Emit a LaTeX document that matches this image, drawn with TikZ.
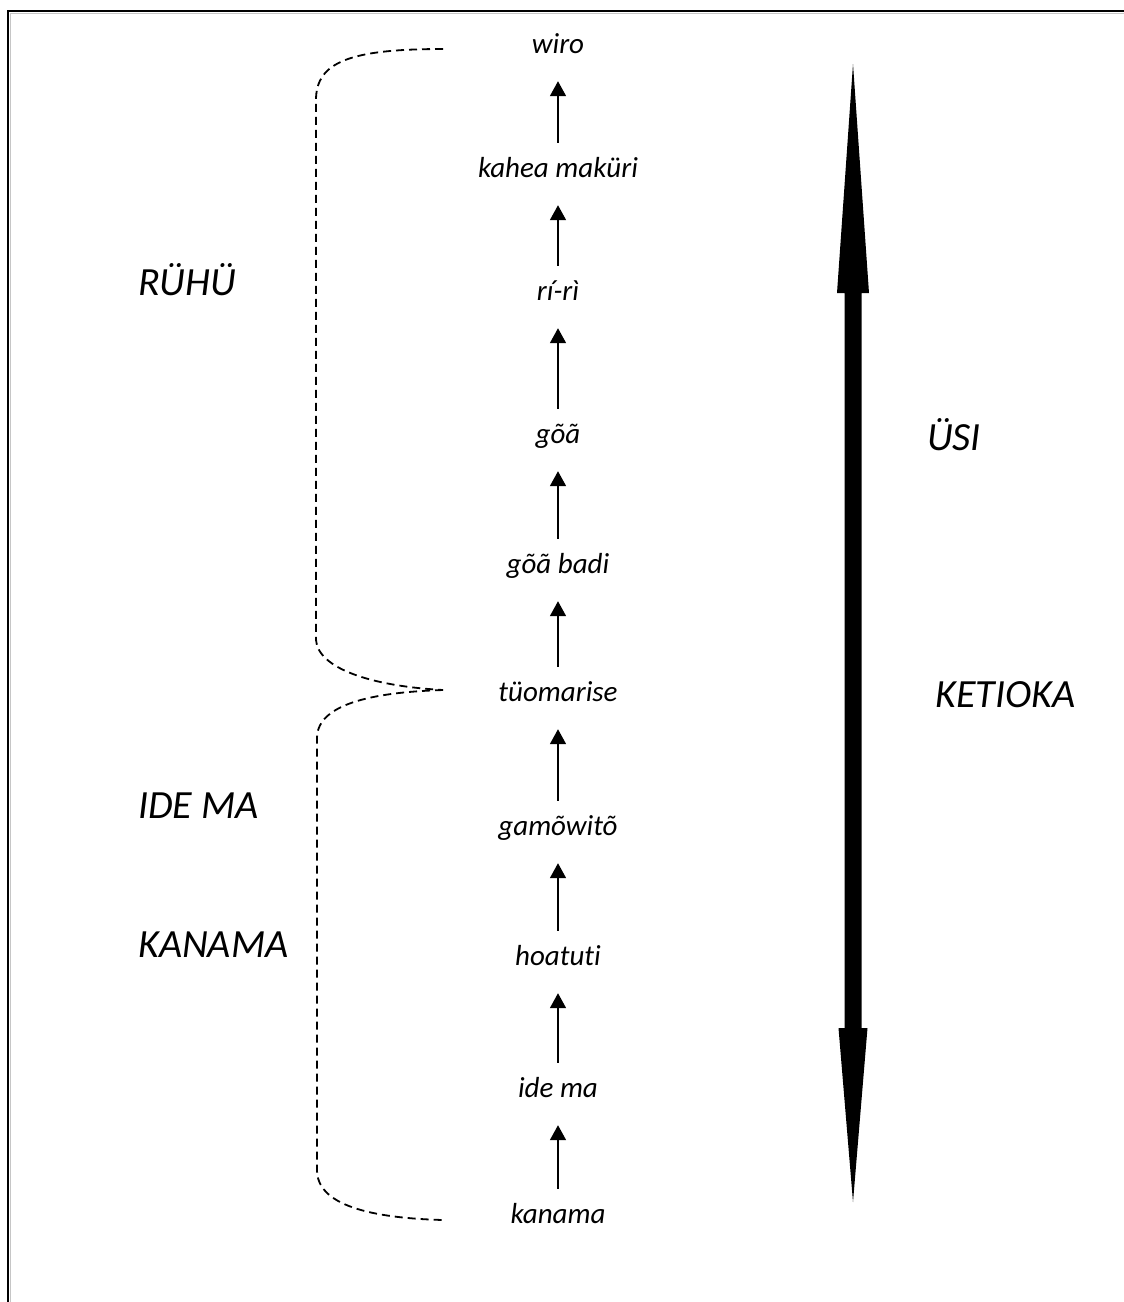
\documentclass[tikz,border=0pt]{standalone}
\usepackage{fontspec}
\setmainfont{Carlito}[Ligatures=CommonOff]
\usetikzlibrary{arrows.meta}

\begin{document}
\begin{tikzpicture}[x=1pt,y=-1pt,
    word/.style={font=\fontsize{29}{34}\selectfont\itshape,inner sep=0pt,
      text height=21pt,text depth=7pt,anchor=base},
    group/.style={font=\fontsize{40}{48}\selectfont\itshape,inner sep=0pt,anchor=base west},
    up/.style={-{Triangle[length=15pt,width=16pt]},line width=1.8pt,
      shorten <=13pt,shorten >=21pt},
    brace/.style={line width=1.8pt,dash pattern=on 8pt off 5pt}]
    \useasboundingbox (0,0) rectangle (1124,1302);

    % frame, open at the bottom and on the right
    \draw[gray!45,line width=1pt] (10.5,1302) -- (10.5,13.5) -- (1124,13.5);
    \draw[line width=2pt] (8,1302) -- (8,11) -- (1124,11);

    % the chain of stages, bottom to top
    \node[word] (wiro) at (558,53) {wiro};
    \node[word] (kahea) at (558,177) {kahea maküri};
    \node[word] (riri) at (558,300) {rí-rì};
    \node[word] (goa) at (558,443) {gõã};
    \node[word] (goabadi) at (558,573) {gõã badi};
    \node[word] (tuo) at (558,701) {tüomarise};
    \node[word] (gamo) at (558,835) {gamõwitõ};
    \node[word] (hoa) at (558,965) {hoatuti};
    \node[word] (idema) at (558,1097) {ide ma};
    \node[word] (kanama) at (558,1223) {kanama};

    \foreach \a/\b in {kanama/idema,idema/hoa,hoa/gamo,gamo/tuo,tuo/goabadi,
        goabadi/goa,goa/riri,riri/kahea,kahea/wiro}
      \draw[up] (\a) -- (\b);

    % dashed brackets
    \coordinate (top) at (443,49);
    \coordinate (mid) at (443,690);
    \coordinate (bot) at (443,1220);
    \draw[brace] (top) .. controls (350,49) and (316,62) .. (316,100) -- (316,640)
      .. controls (318,668) and (370,686) .. (mid);
    \draw[brace] (mid) .. controls (380,692) and (317,702) .. (317,738) -- (317,1170)
      .. controls (317,1205) and (370,1218) .. (bot);

    \node[group] (ruhu) at (138,295) {RÜHÜ};
    \node[group] (idemagr) at (138,818) {IDE MA};
    \node[group] (kanamagr) at (138,957) {KANAMA};

    % big double arrow
    \fill (853,64) -- (869,293) -- (861.5,293) -- (861.5,1028) -- (867.5,1028)
      -- (853,1202) -- (838.5,1028) -- (844.5,1028) -- (844.5,293) -- (837,293) -- cycle;

    \node[group] (usi) at (927,450) {ÜSI};
    \node[group] (ketioka) at (935,707) {KETIOKA};
  \end{tikzpicture}
\end{document}
